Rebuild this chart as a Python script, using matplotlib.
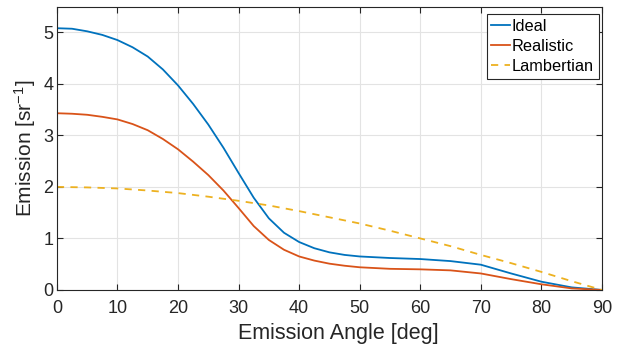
import matplotlib.pyplot as plt

plt.rcParams['font.family'] = ['Liberation Sans', 'DejaVu Sans']
plt.rcParams['mathtext.fontset'] = 'custom'
plt.rcParams['mathtext.rm'] = 'Liberation Sans'
plt.rcParams['mathtext.it'] = 'Liberation Sans:italic'

# Emission profiles
angle = [0, 2.5, 5, 7.5, 10, 12.5, 15, 17.5, 20, 22.5, 25, 27.5, 30, 32.5, 35,
         37.5, 40, 42.5, 45, 47.5, 50, 55, 60, 65, 70, 75, 80, 85, 90]
ideal = [5.08, 5.07, 5.02, 4.95, 4.85, 4.71, 4.53, 4.28, 3.97, 3.61, 3.21, 2.76,
         2.27, 1.79, 1.39, 1.11, 0.93, 0.81, 0.73, 0.68, 0.65, 0.62, 0.60, 0.56,
         0.49, 0.32, 0.16, 0.05, 0.0]
realistic = [3.43, 3.42, 3.40, 3.36, 3.31, 3.22, 3.10, 2.93, 2.73, 2.49, 2.23,
             1.93, 1.59, 1.24, 0.97, 0.78, 0.65, 0.57, 0.51, 0.47, 0.44, 0.41,
             0.40, 0.38, 0.32, 0.21, 0.11, 0.03, 0.0]

lamb_angle = [0, 5, 10, 15, 20, 25, 30, 35, 40, 45, 50, 55, 60, 65, 70, 75, 80, 85, 90]
lambertian = [2.0, 1.99, 1.97, 1.93, 1.88, 1.81, 1.73, 1.64, 1.53, 1.41, 1.29,
              1.15, 1.0, 0.85, 0.68, 0.52, 0.35, 0.17, 0.0]

fig = plt.figure(figsize=(6.32, 3.46), dpi=100)
ax = fig.add_axes([0.090, 0.162, 0.8625, 0.819])

ax.plot(angle, ideal, color='#0072BD', lw=1.3, label='Ideal')
ax.plot(angle, realistic, color='#D95319', lw=1.3, label='Realistic')
ax.plot(lamb_angle, lambertian, color='#EDB120', lw=1.3, ls=(0, (4, 3.5)),
        label='Lambertian')

ax.set_xlim(0, 90)
ax.set_ylim(0, 5.5)
ax.set_xticks(range(0, 91, 10))
ax.set_yticks(range(0, 6))
ax.grid(True, color='#e3e3e3', lw=0.8)
ax.set_axisbelow(True)
for s in ax.spines.values():
    s.set_color('#262626')
    s.set_linewidth(0.8)
ax.tick_params(direction='in', top=True, right=True, length=4, width=0.8,
               labelsize=13, colors='#262626')
ax.tick_params(axis='x', pad=7)
ax.tick_params(axis='y', pad=2.5)

ax.set_xlabel('Emission Angle [deg]', fontsize=15.5, color='#262626')
ax.xaxis.set_label_coords(0.5156, -0.117)
ax.set_ylabel('Emission [sr$^{-1}$]', fontsize=15, color='#262626')
ax.yaxis.set_label_coords(-0.034, 0.5)

leg = ax.legend(loc='upper right', bbox_to_anchor=(0.9945, 0.974), borderaxespad=0,
                fontsize=11.8, handlelength=1.15, handletextpad=0.1,
                labelspacing=0.3, borderpad=0.3, fancybox=False, framealpha=1)
leg.get_frame().set_edgecolor('#262626')
leg.get_frame().set_linewidth(0.8)

fig.savefig('out.png', dpi=100)
